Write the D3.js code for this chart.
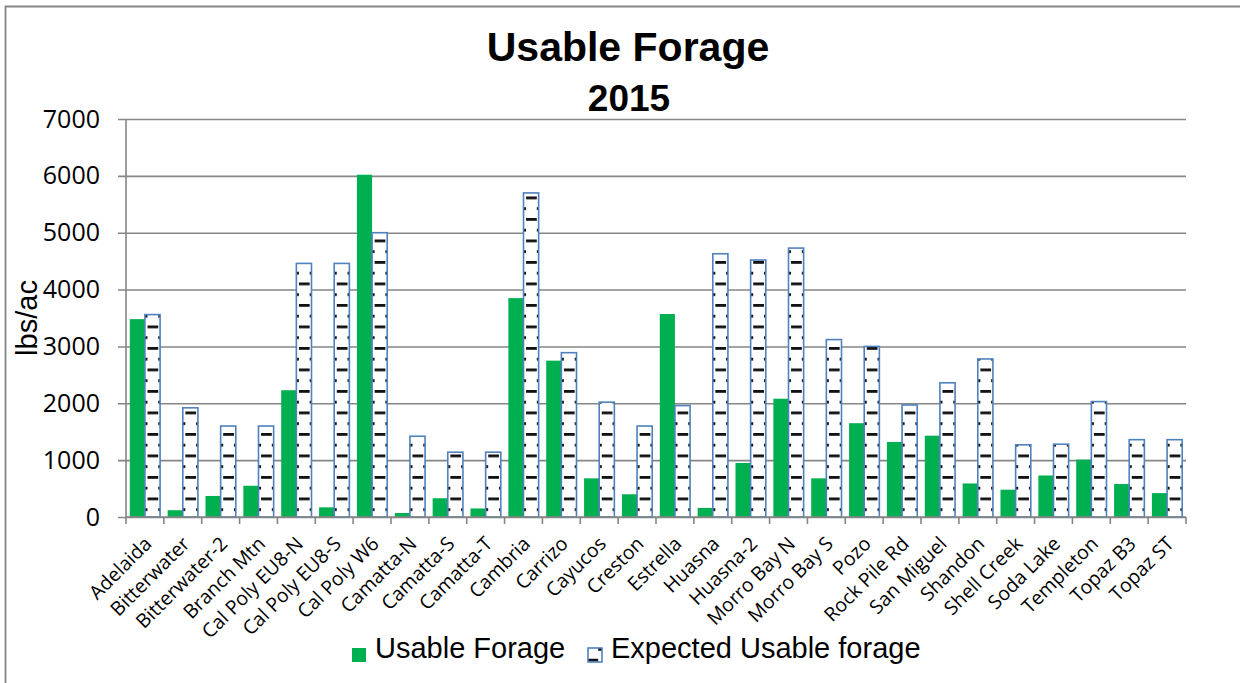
<!DOCTYPE html>
<html><head><meta charset="utf-8">
<script src="https://cdn.jsdelivr.net/npm/d3@7"></script>
<style>body{margin:0;background:#fff;} svg{display:block}</style>
</head><body><svg id="chart" width="1240" height="683"></svg>
<script>
const categories = ["Adelaida","Bitterwater","Bitterwater-2","Branch Mtn","Cal Poly EU8-N","Cal Poly EU8-S","Cal Poly W6","Camatta-N","Camatta-S","Camatta-T","Cambria","Carrizo","Cayucos","Creston","Estrella","Huasna","Huasna-2","Morro Bay N","Morro Bay S","Pozo","Rock Pile Rd","San Miguel","Shandon","Shell Creek","Soda Lake","Templeton","Topaz B3","Topaz ST"];
const usableForage = [3480,120,370,550,2230,170,6020,70,330,150,3850,2750,680,400,3570,160,950,2080,680,1650,1320,1430,590,480,730,1010,580,420];
const expectedForage = [3560,1920,1600,1600,4460,4460,5000,1420,1140,1140,5700,2890,2020,1600,1960,4630,4520,4730,3120,3000,1970,2360,2780,1270,1280,2030,1360,1360];
const yTicks = [0,1000,2000,3000,4000,5000,6000,7000];
const seriesNames = ["Usable Forage","Expected Usable forage"];
const titleText = "Usable Forage";
const subtitleText = "2015";
const yAxisTitle = "lbs/ac";

(function(){
const svg = d3.select("#chart");
const W = 1240, H = 683;
const pL = 126, pR = 1186, pT = 119, pB = 517;
const gridColor = "#868686";
const green = "#00B050", blue = "#4F81BD";

// pattern
const defs = svg.append("defs");
const pat = defs.append("pattern").attr("id","dash").attr("patternUnits","userSpaceOnUse")
  .attr("width",21.5).attr("height",21.5)
  .attr("patternTransform","translate(17.7,3)");
pat.append("rect").attr("width",21.5).attr("height",21.5).attr("fill","#fff");
pat.append("rect").attr("x",0).attr("y",0).attr("width",10.75).attr("height",2.8).attr("fill","#111");
pat.append("rect").attr("x",10.75).attr("y",10.75).attr("width",10.75).attr("height",2.8).attr("fill","#111");

// chart border
svg.append("path").attr("d",`M5.5,${H} V6.5 H${W}`).attr("fill","none").attr("stroke",gridColor).attr("stroke-width",1.8);

const x0 = d3.scaleBand().domain(categories).range([pL,pR]).paddingInner(0.2).paddingOuter(0.1);
const x1 = d3.scaleBand().domain(seriesNames).range([0,x0.bandwidth()]);
const y = d3.scaleLinear().domain([0,7000]).range([pB,pT]);

// gridlines + y ticks
const yAxis = d3.axisLeft(y).tickValues(yTicks).tickSize(-(pR-pL)).tickPadding(26).tickFormat(d3.format("d"));
const gy = svg.append("g").attr("transform",`translate(${pL},0)`).call(yAxis);
gy.select(".domain").remove();
gy.selectAll(".tick line").attr("x1",-8).attr("stroke",gridColor).attr("stroke-width",1.6);
gy.selectAll(".tick text").attr("font-family","'Open Sans'").attr("font-size",25).attr("fill","#000");
svg.append("line").attr("x1",pL).attr("x2",pL).attr("y1",pT).attr("y2",pB).attr("stroke",gridColor).attr("stroke-width",1.6);

// bars
const rows = categories.map((c,i)=>({cat:c, vals:[usableForage[i],expectedForage[i]]}));
const grp = svg.append("g").selectAll("g").data(rows).join("g").attr("transform",d=>`translate(${x0(d.cat)},0)`);
grp.append("rect").attr("x",x1(seriesNames[0])).attr("width",x1.bandwidth())
  .attr("y",d=>y(d.vals[0])).attr("height",d=>pB-y(d.vals[0])).attr("fill",green);
grp.append("rect").attr("x",x1(seriesNames[1])).attr("width",x1.bandwidth())
  .attr("y",d=>y(d.vals[1])).attr("height",d=>pB-y(d.vals[1])).attr("fill","url(#dash)")
  .attr("stroke",blue).attr("stroke-width",1.6);

// x axis
const step = x0.step();
const gx = svg.append("g");
gx.append("line").attr("x1",pL).attr("x2",pR).attr("y1",pB).attr("y2",pB).attr("stroke",gridColor).attr("stroke-width",1.6);
gx.selectAll("line.tk").data(d3.range(categories.length+1)).join("line").attr("class","tk")
  .attr("x1",i=>pL+i*step).attr("x2",i=>pL+i*step).attr("y1",pB).attr("y2",pB+7)
  .attr("stroke",gridColor).attr("stroke-width",1.6);
gx.selectAll("text").data(categories).join("text")
  .attr("transform",d=>`translate(${x0(d)+x0.bandwidth()/2+8},545) rotate(-45)`)
  .attr("text-anchor","end").attr("font-family","'Open Sans'").attr("font-size",19.5).attr("fill","#000")
  .text(d=>d);

// titles
svg.append("text").attr("x",628).attr("y",61).attr("text-anchor","middle")
  .attr("font-family","'Liberation Sans', Arial").attr("font-weight","bold").attr("font-size",41).text(titleText);
svg.append("text").attr("x",629).attr("y",111).attr("text-anchor","middle")
  .attr("font-family","'Liberation Sans', Arial").attr("font-weight","bold").attr("font-size",37).text(subtitleText);
svg.append("text").attr("transform",`translate(37,${(pT+pB)/2}) rotate(-90)`).attr("text-anchor","middle")
  .attr("font-family","'Liberation Sans', Arial").attr("font-size",29).text(yAxisTitle);

// legend
const leg = svg.append("g");
const legItems = [{name:seriesNames[0], x:352, fill:green, stroke:"none"},{name:seriesNames[1], x:588, fill:"url(#dash)", stroke:blue}];
legItems.forEach(it=>{
  leg.append("rect").attr("x",it.x).attr("y",648).attr("width",14).attr("height",14)
    .attr("fill",it.fill).attr("stroke",it.stroke).attr("stroke-width",1.6);
  leg.append("text").attr("x",it.x+23).attr("y",658).attr("font-family","'Liberation Sans', Arial")
    .attr("font-size",29).attr("fill","#000").text(it.name);
});
})();
</script></body></html>
